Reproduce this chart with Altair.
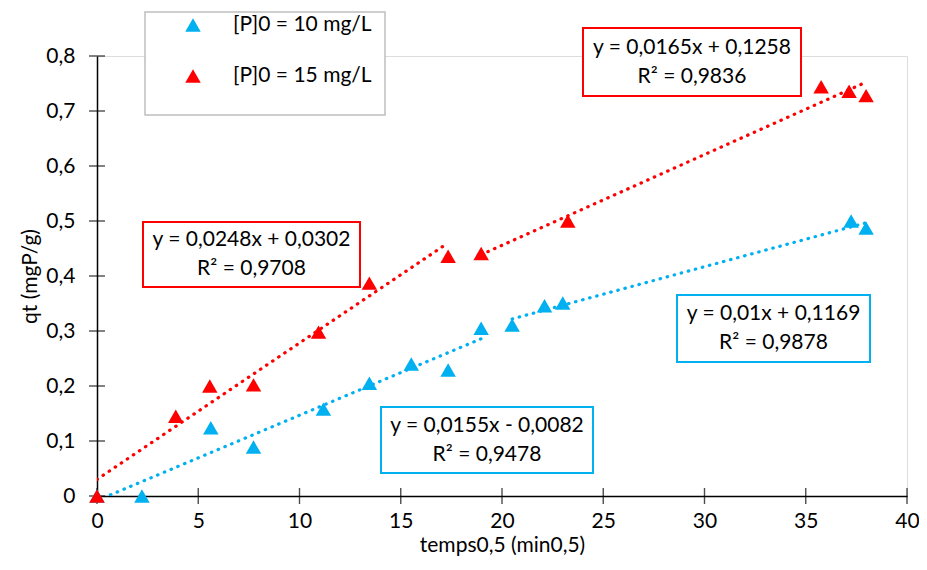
import altair as alt
import pandas as pd

# ---------------- data ----------------
series_names = ["[P]0 = 10 mg/L", "[P]0 = 15 mg/L"]
series_colors = ["#00B0F0", "#FF0000"]

x_10 = [0, 2.22, 5.62, 7.73, 11.18, 13.45, 15.52, 17.34, 18.97, 20.5, 22.1, 23.0, 37.24, 37.98]
y_10 = [0, 0, 0.124, 0.089, 0.158, 0.205, 0.24, 0.229, 0.305, 0.311, 0.346, 0.351, 0.5, 0.487]
x_15 = [0, 3.89, 5.57, 7.73, 10.94, 13.45, 17.34, 18.97, 23.25, 35.76, 37.14, 37.98]
y_15 = [0, 0.145, 0.2, 0.202, 0.298, 0.387, 0.436, 0.441, 0.5, 0.744, 0.736, 0.728]

fit_series = [0, 0, 1, 1]
fit_slope = [0.0155, 0.01, 0.0248, 0.0165]
fit_intercept = [-0.0082, 0.1169, 0.0302, 0.1258]
fit_r2 = [0.9478, 0.9878, 0.9708, 0.9836]
fit_x_start = [0, 20.5, 0, 18.97]
fit_x_end = [18.97, 37.98, 17.34, 37.98]

x_ticks = [0, 5, 10, 15, 20, 25, 30, 35, 40]
y_ticks = [0, 0.1, 0.2, 0.3, 0.4, 0.5, 0.6, 0.7, 0.8]

x_title = "temps0,5 (min0,5)"
y_title = "qt (mgP/g)"

# ---------------- style / layout ----------------
FONT = "Lato"
FS = 21
LH = 29
W, H = 810, 440
# equation boxes (plot-area pixels): x1, y1, x2, y2 -- same order as fits
boxes = [(284, 351, 496, 417), (580, 239, 773, 306), (46, 166, 263, 231), (486, -28, 704, 40)]
legend_box = (48, -44, 288, 59)
legend_rows_y = [-31, 20]
legend_sym_x, legend_text_x = 96, 136

# ---------------- tables ----------------
pts = pd.DataFrame(
    [{"x": a, "y": b, "series": series_names[0]} for a, b in zip(x_10, y_10)]
    + [{"x": a, "y": b, "series": series_names[1]} for a, b in zip(x_15, y_15)]
)

fit_rows = []
for i in range(len(fit_slope)):
    for xv in (fit_x_start[i], fit_x_end[i]):
        fit_rows.append({"fit": i, "x": xv, "slope": fit_slope[i], "intercept": fit_intercept[i],
                         "series": series_names[fit_series[i]]})
fits = pd.DataFrame(fit_rows)


def fmt(v):
    return ("%g" % v).replace(".", ",")


xs = alt.Scale(domain=[0, 40], nice=False, zero=False)
ys = alt.Scale(domain=[0, 0.8], nice=False, zero=False)
color = alt.Color("series:N", scale=alt.Scale(domain=series_names, range=series_colors), legend=None)

layers = []

# trend lines
layers.append(
    alt.Chart(fits)
    .transform_calculate(yv="datum.slope * datum.x + datum.intercept")
    .mark_line(clip=True, strokeWidth=3.2, strokeDash=[0.5, 6.8], strokeCap="round")
    .encode(
        x=alt.X("x:Q", scale=xs, axis=alt.Axis(
            title=x_title, values=x_ticks, grid=False, ticks=False, tickSize=0, labelFlush=False,
            domainColor="black", domainWidth=1.5, labelFont=FONT, labelFontSize=FS,
            labelColor="black", labelPadding=14, titleFont=FONT, titleFontSize=FS,
            titleFontWeight="normal", titleColor="black", titlePadding=3)),
        y=alt.Y("yv:Q", scale=ys, axis=alt.Axis(
            title=y_title, values=y_ticks, grid=False, ticks=False, tickSize=0, labelFlush=False,
            domainColor="black", domainWidth=1.5, labelFont=FONT, labelFontSize=FS,
            labelColor="black", labelPadding=22,
            labelExpr="replace(format(datum.value, '.1~f'), '.', ',')",
            titleFont=FONT, titleFontSize=FS, titleFontWeight="normal",
            titleColor="black", titlePadding=5)),
        color=color,
        detail="fit:N",
    )
)

# crossing tick marks
layers.append(
    alt.Chart(pd.DataFrame({"x": x_ticks}))
    .mark_tick(color="black", size=16, thickness=1.4)
    .encode(x=alt.X("x:Q", scale=xs), y=alt.value(H))
)
layers.append(
    alt.Chart(pd.DataFrame({"y": y_ticks}))
    .mark_tick(color="black", size=16, thickness=1.4)
    .encode(y=alt.Y("y:Q", scale=ys), x=alt.value(0))
)

# points
layers.append(
    alt.Chart(pts)
    .mark_point(shape="triangle-up", filled=True, size=240, opacity=1)
    .encode(x=alt.X("x:Q", scale=xs), y=alt.Y("y:Q", scale=ys), color=color)
)

# equation boxes
for i in range(len(fit_slope)):
    x1, y1, x2, y2 = boxes[i]
    col = series_colors[fit_series[i]]
    b = fit_intercept[i]
    txt = "y = %sx %s %s\nR² = %s" % (fmt(fit_slope[i]), "+" if b >= 0 else "-", fmt(abs(b)), fmt(fit_r2[i]))
    layers.append(
        alt.Chart(pd.DataFrame({"t": [txt]}))
        .mark_rect(fill="white", stroke=col, strokeWidth=2)
        .encode(x=alt.value(x1), x2=alt.value(x2), y=alt.value(y1), y2=alt.value(y2))
    )
    layers.append(
        alt.Chart(pd.DataFrame({"t": [txt]}))
        .mark_text(font=FONT, fontSize=FS, color="black", align="center", baseline="middle",
                   lineBreak="\n", lineHeight=LH)
        .encode(x=alt.value((x1 + x2) / 2), y=alt.value((y1 + y2) / 2 - LH / 2), text="t:N")
    )

# legend
lx1, ly1, lx2, ly2 = legend_box
layers.append(
    alt.Chart(pd.DataFrame({"a": [0]}))
    .mark_rect(fill="white", stroke="#BFBFBF", strokeWidth=1.5)
    .encode(x=alt.value(lx1), x2=alt.value(lx2), y=alt.value(ly1), y2=alt.value(ly2))
)
for k, name in enumerate(series_names):
    d = pd.DataFrame({"series": [name]})
    layers.append(
        alt.Chart(d).mark_point(shape="triangle-up", filled=True, size=240, opacity=1)
        .encode(x=alt.value(legend_sym_x), y=alt.value(legend_rows_y[k]), color=color)
    )
    layers.append(
        alt.Chart(d).mark_text(font=FONT, fontSize=FS, color="black", align="left", baseline="middle")
        .encode(x=alt.value(legend_text_x), y=alt.value(legend_rows_y[k]), text="series:N")
    )

chart = (
    alt.layer(*layers)
    .properties(width=W, height=H, padding={"left": 89, "top": 48, "right": 12, "bottom": 60},
                autosize=alt.AutoSizeParams(type="none"))
    .configure_view(stroke=None)
    .configure(background="white")
)

chart.save("out.html", embed_options={"renderer": "svg", "actions": False})
